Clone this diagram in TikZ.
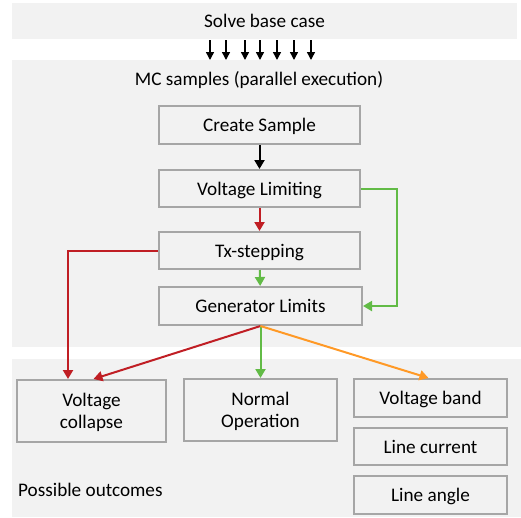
\documentclass[tikz,border=0pt]{standalone}
\usepackage{fontspec}
\setmainfont{Carlito}
\usepackage{tikz}
\usetikzlibrary{arrows.meta, positioning, calc}
\usepackage{xcolor}
\definecolor{bandgray}{RGB}{242,242,242}
\definecolor{linegray}{RGB}{166,166,166}
\definecolor{failred}{RGB}{192,30,36}
\definecolor{okgreen}{RGB}{98,187,70}
\definecolor{warnorange}{RGB}{255,153,38}

\tikzset{
    box/.style={draw=linegray, fill=bandgray, line width=2pt, inner sep=0pt, align=center, text depth=0pt},
    flow/.style={line width=2pt, -{Triangle[width=10pt,length=9pt]}}
}

\begin{document}
\begin{tikzpicture}[x=1pt, y=-1pt, font=\fontsize{19.2}{22}\selectfont]
        \useasboundingbox (0,0) rectangle (521,517);
        % bands
        \fill[bandgray] (12,60) rectangle (521,347);
        \fill[bandgray] (12,359) rectangle (521,517);
        \node[fill=bandgray, minimum width=505pt, minimum height=36pt, inner sep=0pt, text depth=0pt] (base) at (264.5,21) {Solve base case};
        \node[text depth=0pt] (mc) at (259,78) {MC samples (parallel execution)};
        \node[anchor=west, inner sep=0pt] (outcomes) at (18,490) {Possible outcomes};

        \foreach \x in {210,226,245,260,277,294,311}
            \draw[line width=1.5pt, -{Triangle[width=8pt,length=8pt]}] (\x,40) -- (\x,60);

        % sample steps
        \node[box, minimum width=201pt, minimum height=38pt] (create) at (259.5,125) {Create Sample};
        \node[box, minimum width=201pt, minimum height=37pt] (vlim) at (259.5,188.5) {Voltage Limiting};
        \node[box, minimum width=201pt, minimum height=37pt] (tx) at (259.5,250.5) {Tx-stepping};
        \node[box, minimum width=203pt, minimum height=38pt] (gen) at (260.5,306) {Generator Limits};

        % outcomes
        \node[box, minimum width=149pt, minimum height=62pt] (collapse) at (91.5,411) {Voltage\\collapse};
        \node[box, minimum width=153pt, minimum height=62pt] (normal) at (260.5,410) {Normal\\Operation};
        \node[box, minimum width=153pt, minimum height=38pt] (vband) at (430.5,398) {Voltage band};
        \node[box, minimum width=153pt, minimum height=37pt] (lcurr) at (430.5,446.5) {Line current};
        \node[box, minimum width=153pt, minimum height=38pt] (langle) at (430.5,495) {Line angle};

        \draw[flow] (create) -- (vlim);
        \draw[flow, failred] (vlim) -- (tx);
        \draw[flow, okgreen] (tx) -- (gen);
        \draw[flow, okgreen] (vlim.east) -- ++(36,0) |- (gen.east);
        \draw[flow, failred] (tx.west) -| ([xshift=52pt]collapse.north west);
        \draw[flow, failred] (gen.south) -- ([xshift=2pt]collapse.north);
        \draw[flow, okgreen] (gen.south) -- (normal.north);
        \draw[flow, warnorange] (gen.south) -- ([xshift=-2pt]vband.north);
    \end{tikzpicture}
\end{document}
